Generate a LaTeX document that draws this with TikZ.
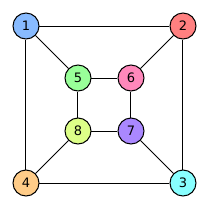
\documentclass[tikz,border=0pt]{standalone}
\usepackage{fontspec}
\setmainfont{DejaVu Sans}
\definecolor{c1}{HTML}{88BBFF}
\definecolor{c2}{HTML}{FF8080}
\definecolor{c3}{HTML}{88FFFF}
\definecolor{c4}{HTML}{FFCC88}
\definecolor{c5}{HTML}{99FF99}
\definecolor{c6}{HTML}{FF88BB}
\definecolor{c7}{HTML}{AA88FF}
\definecolor{c8}{HTML}{DDFF88}
\begin{document}
\begin{tikzpicture}[x=1pt,y=-1pt,
  vtx/.style={circle,draw=black,line width=1pt,minimum size=26pt,inner sep=0pt,font=\fontsize{13}{13}\selectfont},
  edge/.style={line width=1pt}]
\useasboundingbox (0,0) rectangle (210,210);
\node[vtx,fill=c1] (n1) at (26,26) {1};
\node[vtx,fill=c2] (n2) at (183,26) {2};
\node[vtx,fill=c3] (n3) at (183,183) {3};
\node[vtx,fill=c4] (n4) at (26,183) {4};
\node[vtx,fill=c5] (n5) at (78,78) {5};
\node[vtx,fill=c6] (n6) at (131,78) {6};
\node[vtx,fill=c7] (n7) at (131,131) {7};
\node[vtx,fill=c8] (n8) at (78,131) {8};
\draw[edge] (n1) -- (n2);
\draw[edge] (n2) -- (n3);
\draw[edge] (n3) -- (n4);
\draw[edge] (n4) -- (n1);
\draw[edge] (n5) -- (n6);
\draw[edge] (n6) -- (n7);
\draw[edge] (n7) -- (n8);
\draw[edge] (n8) -- (n5);
\draw[edge] (n1) -- (n5);
\draw[edge] (n2) -- (n6);
\draw[edge] (n3) -- (n7);
\draw[edge] (n4) -- (n8);
\end{tikzpicture}
\end{document}
